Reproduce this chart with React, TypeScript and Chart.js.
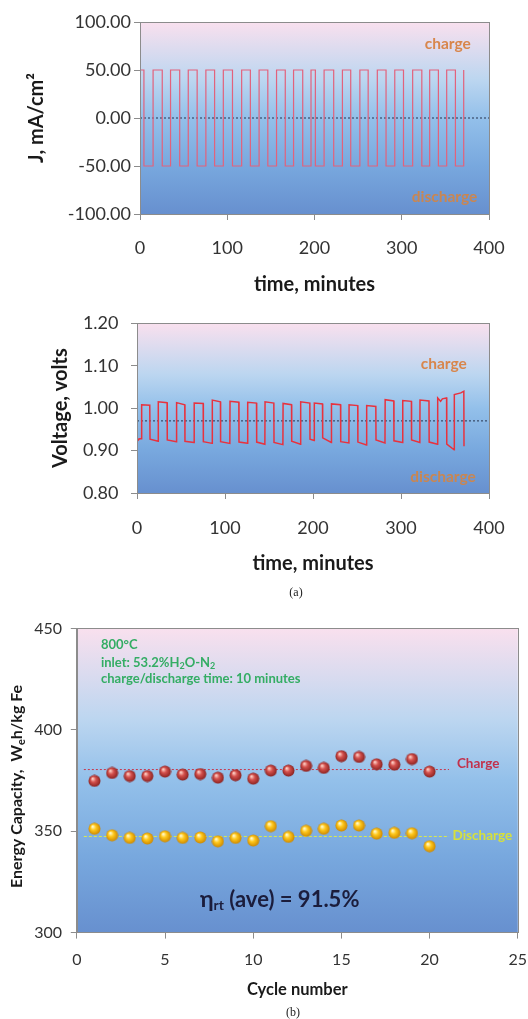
import React, { useEffect, useRef } from 'react';
import { Chart, registerables } from 'chart.js';

Chart.register(...registerables);

// ---------- Data ----------
// (a) top: current density square wave, switching times (min) and new level (mA/cm2)
const currentTimes = [0, 4.5, 15, 25.5, 35, 45.5, 55.3, 65.5, 75.5, 85.5, 95.5, 106, 116.5, 126.5, 136.5, 146.5, 156.5, 166.5, 176, 186.5, 196, 201, 211, 222, 232, 241.5, 252, 261.5, 272, 282, 292, 302, 312.5, 323, 332, 342, 351.5, 361.5, 371];
const currentValues = [50, -50, 50, -50, 50, -50, 50, -50, 50, -50, 50, -50, 50, -50, 50, -50, 50, -50, 50, -50, 50, -50, 50, -50, 50, -50, 50, -50, 50, -50, 50, -50, 50, -50, 50, -50, 50, -50, 50];

// (a) bottom: voltage trace (min, volts)
const voltageTimes = [
  0, 1.5, 3, 5,
  5.3, 14.5, 14.8, 24,
  24.2, 34.2, 34.4, 44.8,
  45, 54.3, 54.5, 64.8,
  65, 75.2, 75.4, 85.4,
  85.6, 94.8, 95, 105.5,
  105.7, 115.7, 115.9, 125.6,
  125.8, 135.8, 136, 145.3,
  145.5, 155.5, 155.7, 165.8,
  166, 175.6, 175.8, 185.8,
  186, 196.4, 196.6, 201.3,
  201.5, 210.8, 211, 220.8,
  221, 231.3, 231.5, 240.8,
  241, 250.8, 251, 260.8,
  261, 271.4, 271.6, 281.8,
  282, 291.8, 292, 301.8,
  302, 311.8, 312, 321.4,
  321.6, 331.8, 332, 341.5,
  341.7, 345, 347, 351.8, 352, 360.4,
  360.6, 368, 371.4, 371.6,
];
const voltageValues = [
  0.931, 0.925, 0.928, 0.928,
  1.008, 1.007, 0.927, 0.922,
  1.015, 1.013, 0.925, 0.921,
  1.013, 1.008, 0.922, 0.919,
  1.012, 1.011, 0.921, 0.917,
  1.019, 1.015, 0.921, 0.917,
  1.016, 1.014, 0.920, 0.917,
  1.014, 1.012, 0.920, 0.915,
  1.015, 1.012, 0.919, 0.914,
  1.011, 1.008, 0.922, 0.915,
  1.015, 1.012, 0.927, 0.924,
  1.012, 1.010, 0.930, 0.919,
  1.010, 1.008, 0.921, 0.918,
  1.008, 1.006, 0.920, 0.913,
  1.006, 1.004, 0.925, 0.918,
  1.020, 1.017, 0.923, 0.919,
  1.018, 1.016, 0.925, 0.919,
  1.019, 1.017, 0.920, 0.915,
  1.024, 1.016, 1.022, 1.024, 0.915, 0.902,
  1.032, 1.036, 1.040, 0.910,
];
const voltageReference = 0.97;
const currentReference = 0;

// (b) energy capacity per cycle
const cycles = [1, 2, 3, 4, 5, 6, 7, 8, 9, 10, 11, 12, 13, 14, 15, 16, 17, 18, 19, 20];
const chargeCapacity = [374.8, 378.7, 377.2, 377.2, 379.4, 377.9, 378.2, 376.4, 377.6, 375.9, 379.9, 379.9, 382.2, 381.2, 387.0, 386.6, 383.0, 382.8, 385.6, 379.4];
const dischargeCapacity = [351.2, 348.0, 346.7, 346.4, 347.5, 346.7, 346.9, 345.0, 346.7, 345.4, 352.5, 347.2, 350.2, 351.2, 352.8, 352.8, 348.8, 349.2, 349.0, 342.6];
const chargeAverage = 380.4;
const dischargeAverage = 347.4;
const averageLineStart = 0.4;
const averageLineEnd = 21.1;

const FONT = 'Lato, "Open Sans", sans-serif';
const GRAY = '#8c8c8c';
const TICK_COLOR = '#333333';

// ---------- Plugins ----------
const backgroundPlugin = {
  id: 'plotBackground',
  beforeDraw(chart: any) {
    const { ctx, chartArea: a } = chart;
    const g = ctx.createLinearGradient(0, a.top, 0, a.bottom);
    g.addColorStop(0, '#f9e0ee');
    g.addColorStop(0.3, '#bcd6f0');
    g.addColorStop(0.5, '#93c0ea');
    g.addColorStop(0.75, '#78a8de');
    g.addColorStop(1, '#6790cf');
    ctx.save();
    ctx.fillStyle = g;
    ctx.fillRect(a.left, a.top, a.right - a.left, a.bottom - a.top);
    ctx.restore();
  },
  afterDraw(chart: any) {
    const { ctx, chartArea: a } = chart;
    ctx.save();
    ctx.strokeStyle = GRAY;
    ctx.lineWidth = 1;
    ctx.strokeRect(Math.round(a.left) + 0.5, Math.round(a.top) + 0.5, Math.round(a.right - a.left), Math.round(a.bottom - a.top));
    ctx.restore();
  },
};

type Seg = { t: string; size: number; dy?: number };
function drawRich(ctx: CanvasRenderingContext2D, segs: Seg[], x: number, y: number, align: 'left' | 'center') {
  ctx.textBaseline = 'middle';
  ctx.textAlign = 'left';
  const widths = segs.map((s) => {
    ctx.font = `bold ${s.size}px ${FONT}`;
    return ctx.measureText(s.t).width;
  });
  const total = widths.reduce((p, c) => p + c, 0);
  let cx = align === 'center' ? x - total / 2 : x;
  segs.forEach((s, i) => {
    ctx.font = `bold ${s.size}px ${FONT}`;
    ctx.fillText(s.t, cx, y + (s.dy || 0));
    cx += widths[i];
  });
}

function chargeLabelPlugin(chargePos: [number, number], dischargePos: [number, number]) {
  return {
    id: 'chargeLabels',
    afterDatasetsDraw(chart: any) {
      const { ctx, scales } = chart;
      ctx.save();
      ctx.font = `bold 15.5px ${FONT}`;
      ctx.textAlign = 'center';
      ctx.textBaseline = 'middle';
      ctx.fillStyle = '#d8864c';
      ctx.fillText('charge', scales.x.getPixelForValue(chargePos[0]), scales.y.getPixelForValue(chargePos[1]));
      ctx.fillStyle = '#c98652';
      ctx.fillText('discharge', scales.x.getPixelForValue(dischargePos[0]), scales.y.getPixelForValue(dischargePos[1]));
      ctx.restore();
    },
  };
}

const capacityTextPlugin = {
  id: 'capacityText',
  afterDatasetsDraw(chart: any) {
    const { ctx, scales, chartArea } = chart;
    const x = scales.x;
    const y = scales.y;
    ctx.save();
    // condition notes
    ctx.fillStyle = '#34ad64';
    const nx = x.getPixelForValue(1.37);
    const ny = y.getPixelForValue(441.7);
    drawRich(ctx, [{ t: '800°C', size: 13 }], nx, ny, 'left');
    drawRich(ctx, [
      { t: 'inlet: 53.2%H', size: 13 },
      { t: '2', size: 9, dy: 3 },
      { t: 'O-N', size: 13 },
      { t: '2', size: 9, dy: 3 },
    ], nx, ny + 17.5, 'left');
    drawRich(ctx, [{ t: 'charge/discharge time: 10 minutes', size: 13 }], nx, ny + 33.5, 'left');

    // efficiency
    ctx.fillStyle = '#1b1d3c';
    drawRich(ctx, [
      { t: 'η', size: 23 },
      { t: 'rt', size: 14, dy: 6 },
      { t: ' (ave) = 91.5%', size: 22 },
    ], x.getPixelForValue(11.5), y.getPixelForValue(316.2), 'center');

    // series labels
    ctx.fillStyle = '#c2314c';
    drawRich(ctx, [{ t: 'Charge', size: 13.5 }], x.getPixelForValue(21.55), y.getPixelForValue(383.2), 'left');
    ctx.fillStyle = '#d6e03c';
    drawRich(ctx, [{ t: 'Discharge', size: 13.5 }], x.getPixelForValue(21.3), y.getPixelForValue(347.8), 'left');

    // y axis title with subscript
    ctx.fillStyle = '#1a1a1a';
    ctx.translate(17, (chartArea.top + chartArea.bottom) / 2 + 6);
    ctx.rotate(-Math.PI / 2);
    drawRich(ctx, [
      { t: 'Energy Capacity,  W', size: 16 },
      { t: 'e', size: 11, dy: 4 },
      { t: 'h/kg Fe', size: 16 },
    ], 0, 0, 'center');
    ctx.restore();
  },
};

function makeSphere(light: string, mid: string, dark: string) {
  const c = document.createElement('canvas');
  c.width = 13;
  c.height = 13;
  const g = c.getContext('2d')!;
  const grad = g.createRadialGradient(4.6, 4.1, 0.4, 6.5, 6.5, 6.3);
  grad.addColorStop(0, light);
  grad.addColorStop(0.4, mid);
  grad.addColorStop(1, dark);
  g.fillStyle = grad;
  g.beginPath();
  g.arc(6.5, 6.5, 6, 0, Math.PI * 2);
  g.fill();
  return c;
}

// ---------- Helpers ----------
function tickFont(size: number) {
  return { family: FONT, size };
}
function titleFont(size: number) {
  return { family: FONT, size, weight: 'bold' as const };
}
function gridOpts() {
  return { display: true, drawOnChartArea: false, drawTicks: true, tickLength: 6, color: GRAY };
}

function useChart(ref: React.RefObject<HTMLCanvasElement | null>, build: () => any) {
  useEffect(() => {
    if (!ref.current) return;
    const chart = new Chart(ref.current, build());
    return () => chart.destroy();
  }, []);
}

export default function App() {
  const r1 = useRef<HTMLCanvasElement>(null);
  const r2 = useRef<HTMLCanvasElement>(null);
  const r3 = useRef<HTMLCanvasElement>(null);

  useChart(r1, () => ({
    type: 'line',
    data: {
      datasets: [
        {
          data: currentTimes.map((t, i) => ({ x: t, y: currentValues[i] })),
          stepped: 'before',
          borderColor: '#e2627c',
          borderWidth: 1.2,
          pointRadius: 0,
          fill: false,
        },
        {
          data: [{ x: 0, y: currentReference }, { x: 400, y: currentReference }],
          borderColor: '#27334d',
          borderWidth: 1,
          borderDash: [2, 2],
          pointRadius: 0,
          fill: false,
        },
      ],
    },
    options: {
      responsive: false,
      animation: false,
      devicePixelRatio: 1,
      layout: { padding: { left: 0, right: 39, top: 22, bottom: 0 } },
      plugins: { legend: { display: false }, tooltip: { enabled: false } },
      scales: {
        x: {
          type: 'linear',
          min: 0,
          max: 400,
          ticks: { stepSize: 100, font: tickFont(18), color: TICK_COLOR, padding: 17 },
          grid: gridOpts(),
          border: { color: GRAY },
          title: { display: true, text: 'time, minutes', font: titleFont(20), color: '#1a1a1a', padding: { top: 0, bottom: 3.5 } },
          afterFit: (s: any) => { s.height = 86; s.paddingRight = 0; },
        },
        y: {
          type: 'linear',
          min: -100,
          max: 100,
          ticks: { stepSize: 50, font: tickFont(18), color: TICK_COLOR, padding: 3, callback: (v: any) => Number(v).toFixed(2) },
          grid: gridOpts(),
          border: { color: GRAY },
          title: { display: true, text: 'J, mA/cm²', font: titleFont(20), color: '#1a1a1a', padding: { top: 25, bottom: 0 } },
          afterFit: (s: any) => { s.width = 140; },
        },
      },
    },
    plugins: [backgroundPlugin, chargeLabelPlugin([352.8, 77], [349, -82.5])],
  }));

  useChart(r2, () => ({
    type: 'line',
    data: {
      datasets: [
        {
          data: voltageTimes.map((t, i) => ({ x: t, y: voltageValues[i] })),
          borderColor: '#e8323e',
          borderWidth: 1.5,
          pointRadius: 0,
          tension: 0,
          fill: false,
        },
        {
          data: [{ x: 0, y: voltageReference }, { x: 400, y: voltageReference }],
          borderColor: '#27334d',
          borderWidth: 1,
          borderDash: [2, 2],
          pointRadius: 0,
          fill: false,
        },
      ],
    },
    options: {
      responsive: false,
      animation: false,
      devicePixelRatio: 1,
      layout: { padding: { left: 0, right: 39, top: 22, bottom: 0 } },
      plugins: { legend: { display: false }, tooltip: { enabled: false } },
      scales: {
        x: {
          type: 'linear',
          min: 0,
          max: 400,
          ticks: { stepSize: 100, font: tickFont(18), color: TICK_COLOR, padding: 18 },
          grid: gridOpts(),
          border: { color: GRAY },
          title: { display: true, text: 'time, minutes', font: titleFont(20), color: '#1a1a1a', padding: { top: 0, bottom: 14 } },
          afterFit: (s: any) => { s.height = 97; s.paddingRight = 0; },
        },
        y: {
          type: 'linear',
          min: 0.8,
          max: 1.2,
          ticks: { stepSize: 0.1, font: tickFont(18), color: TICK_COLOR, padding: 12.5, callback: (v: any) => Number(v).toFixed(2) },
          grid: gridOpts(),
          border: { color: GRAY },
          title: { display: true, text: 'Voltage, volts', font: titleFont(20), color: '#1a1a1a', padding: { top: 48.6, bottom: 0 } },
          afterFit: (s: any) => { s.width = 137; },
        },
      },
    },
    plugins: [backgroundPlugin, chargeLabelPlugin([348.6, 1.1046], [347.8, 0.837])],
  }));

  useChart(r3, () => {
    const redSphere = makeSphere('#ffd2c8', '#d4504c', '#86201f');
    const yellowSphere = makeSphere('#fffbd2', '#ffc81c', '#c98400');
    return {
      type: 'scatter',
      data: {
        datasets: [
          {
            data: cycles.map((c, i) => ({ x: c, y: chargeCapacity[i] })),
            pointStyle: redSphere,
            pointRadius: 6,
            showLine: false,
          },
          {
            data: cycles.map((c, i) => ({ x: c, y: dischargeCapacity[i] })),
            pointStyle: yellowSphere,
            pointRadius: 6,
            showLine: false,
          },
          {
            data: [{ x: averageLineStart, y: chargeAverage }, { x: averageLineEnd, y: chargeAverage }],
            showLine: true,
            borderColor: '#c8374c',
            borderWidth: 1,
            borderDash: [2, 2],
            pointRadius: 0,
          },
          {
            data: [{ x: averageLineStart, y: dischargeAverage }, { x: averageLineEnd, y: dischargeAverage }],
            showLine: true,
            borderColor: '#dcea4c',
            borderWidth: 1,
            borderDash: [3, 2],
            pointRadius: 0,
          },
        ],
      },
      options: {
        responsive: false,
        animation: false,
        devicePixelRatio: 1,
        layout: { padding: { left: 0, right: 10.2, top: 15.8, bottom: 0 } },
        plugins: { legend: { display: false }, tooltip: { enabled: false } },
        scales: {
          x: {
            type: 'linear',
            min: 0,
            max: 25,
            ticks: { stepSize: 5, font: tickFont(16), color: TICK_COLOR, padding: 12 },
            grid: gridOpts(),
            border: { color: GRAY },
            title: { display: true, text: 'Cycle number', font: titleFont(16.5), color: '#1a1a1a', padding: { top: 0, bottom: 10.6 } },
            afterFit: (s: any) => { s.height = 77.4; s.paddingRight = 0; },
          },
          y: {
            type: 'linear',
            min: 300,
            max: 450,
            ticks: { stepSize: 50, font: tickFont(16), color: TICK_COLOR, padding: 8.8 },
            grid: gridOpts(),
            border: { color: GRAY },
            title: { display: false },
            afterFit: (s: any) => { s.width = 76.8; },
          },
        },
      },
      plugins: [backgroundPlugin, capacityTextPlugin],
    };
  });

  return (
    <div style={{ position: 'absolute', left: 0, top: 0, width: 528, height: 1019, background: '#ffffff', overflow: 'hidden' }}>
      <canvas ref={r1} width={528} height={300} style={{ position: 'absolute', left: 0, top: 0, width: 528, height: 300 }} />
      <canvas ref={r2} width={528} height={290} style={{ position: 'absolute', left: 0, top: 300, width: 528, height: 290 }} />
      <div style={{ position: 'absolute', left: 266, top: 585, width: 60, textAlign: 'center', fontFamily: '"Liberation Serif", serif', fontSize: 12, color: '#222' }}>(a)</div>
      <canvas ref={r3} width={528} height={400} style={{ position: 'absolute', left: 0, top: 610, width: 528, height: 400 }} />
      <div style={{ position: 'absolute', left: 263, top: 1005, width: 60, textAlign: 'center', fontFamily: '"Liberation Serif", serif', fontSize: 12, color: '#222' }}>(b)</div>
    </div>
  );
}
